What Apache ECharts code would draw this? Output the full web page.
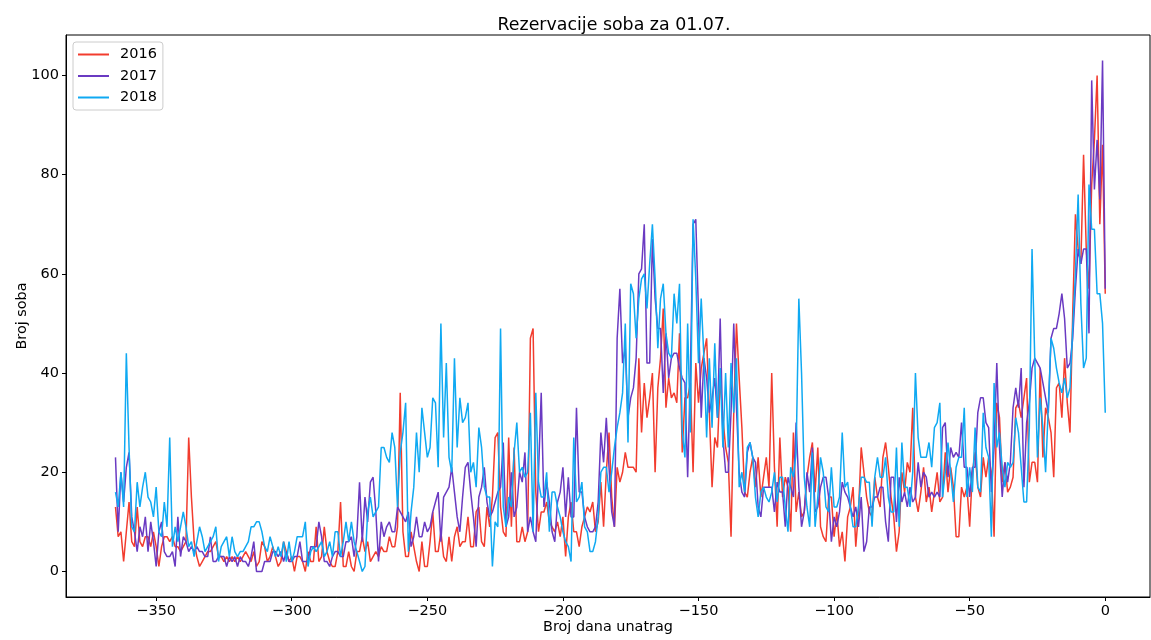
<!DOCTYPE html>
<html>
<head>
<meta charset="utf-8">
<script src="https://cdn.jsdelivr.net/npm/echarts@6/dist/echarts.min.js"></script>
<style>html,body{margin:0;padding:0;background:#fff}#c{width:1151px;height:640px}</style>
</head>
<body>
<div id="c"></div>
<script>
const seriesNames = ['2016', '2017', '2018'];
const xTicks = [-350, -300, -250, -200, -150, -100, -50, 0];
const yTicks = [0, 20, 40, 60, 80, 100];
const days = Array.from({length: 366}, (_, i) => i - 365);

const r2016 = [
13,7,8,2,8,14,6,5,13,6,5,7,7,5,8,5,1,5,7,7,6,7,5,5,4,5,6,27,
15,6,3,1,2,3,4,4,5,6,3,3,2,3,2,3,2,3,2,3,4,3,2,4,1,2,6,5,2,3,5,3,1,2,6,4,2,
3,0,3,3,2,0,4,2,2,9,2,3,9,4,2,1,1,4,14,1,1,4,1,0,4,4,7,4,6,2,3,4,3,5,4,4,7,
5,5,9,36,8,3,3,8,5,2,0,6,1,1,6,12,4,4,8,3,2,7,2,7,9,5,6,6,11,5,5,12,13,6,5,13,9,
15,27,28,13,8,7,27,9,25,6,6,9,6,8,47,49,16,8,12,12,14,10,9,8,10,7,11,3,11,14,8,8,5,9,11,13,12,
14,8,10,18,9,20,28,15,9,21,18,20,24,21,21,21,20,43,28,38,31,35,40,20,37,43,53,33,39,35,36,34,48,24,35,35,38,
20,42,34,41,44,47,32,17,27,25,39,31,25,22,7,32,50,39,29,16,15,20,23,17,23,15,19,23,17,40,21,9,27,15,19,17,8,
28,12,16,11,12,19,23,26,16,25,9,7,6,15,15,7,12,5,8,2,11,13,17,5,12,25,20,15,12,11,19,15,13,23,26,21,15,
11,4,8,20,16,22,20,33,15,12,16,21,14,17,12,16,20,14,15,24,16,21,17,7,7,17,15,17,9,20,24,17,15,23,19,23,20,
7,34,31,18,22,16,17,19,33,34,31,35,39,18,22,22,18,41,23,33,31,28,19,37,38,31,43,34,28,52,72,65,62,84,65,57,78,87,100,70,86,56
];
const p2017 = [
23,8,20,14,21,24,11,8,4,9,7,11,4,10,6,1,8,10,4,3,3,4,1,11,3,7,6,4,
5,4,5,4,4,3,3,7,2,2,3,3,3,1,3,2,3,1,3,2,2,1,3,6,0,0,0,2,2,2,4,4,3,4,2,4,2,
2,3,3,6,2,2,2,5,5,5,10,7,2,2,1,3,4,4,3,3,6,6,7,3,7,18,6,15,10,18,19,12,2,10,7,9,10,
8,8,13,12,11,10,12,5,7,11,7,7,10,8,9,12,14,16,6,15,16,17,21,16,11,8,15,21,22,16,11,5,15,17,21,14,11,
12,14,16,17,26,9,11,20,11,13,20,18,24,8,11,8,6,20,36,13,18,14,8,6,14,16,21,11,19,11,11,33,16,16,11,9,8,
8,9,14,28,22,31,21,12,9,47,57,42,45,31,35,37,43,60,61,70,42,42,67,55,49,49,36,48,39,43,44,44,41,39,38,19,40,
70,71,52,31,43,39,32,35,39,31,51,27,20,20,32,50,33,20,16,15,24,26,23,22,13,11,17,17,17,17,12,18,16,16,9,19,17,
15,30,17,9,12,20,16,25,12,13,17,19,19,15,6,11,9,12,18,16,15,13,11,13,9,15,4,6,13,13,15,15,17,17,10,6,19,
19,10,19,14,16,13,17,14,15,22,17,20,19,15,16,15,16,15,29,30,19,25,23,24,23,30,21,21,15,21,21,32,35,35,30,29,16,
25,42,25,15,22,18,22,33,37,33,41,17,30,34,41,43,42,41,38,35,32,47,49,49,52,56,51,41,42,47,57,65,62,65,65,48,99,77,87,75,103,57
];
const b2018 = [
16,13,20,13,44,25,9,8,18,13,17,20,15,14,11,17,8,7,14,9,27,5,9,6,9,12,9,5,
6,3,6,9,7,4,5,6,7,9,2,5,6,7,3,7,4,3,4,4,5,6,9,9,10,10,8,5,4,7,5,3,5,3,6,2,6,
2,4,7,7,7,10,1,4,5,4,5,6,3,4,6,3,8,8,3,6,10,6,10,6,4,2,0,1,12,15,11,12,13,25,25,23,22,
28,25,13,24,28,34,4,12,17,28,20,33,28,23,25,35,34,21,50,27,42,23,20,43,25,35,30,31,34,20,22,17,29,25,17,15,15,
1,10,9,49,13,9,15,13,24,30,20,21,19,20,32,8,36,18,15,15,20,8,16,16,13,11,8,6,5,2,27,14,15,18,9,8,4,
4,6,11,20,21,21,16,20,25,29,32,36,50,26,58,56,47,55,59,60,53,62,70,59,45,55,58,48,44,43,56,50,58,28,23,50,28,
71,59,42,55,43,27,43,29,46,31,41,25,40,25,42,32,43,17,20,16,25,26,23,15,11,16,17,15,14,16,20,14,19,19,13,8,21,
19,24,55,40,19,13,9,24,9,15,23,20,13,12,21,13,13,15,28,17,18,13,9,9,13,19,19,18,18,9,19,23,19,19,23,15,12,
12,25,9,26,17,17,13,20,40,27,23,23,23,26,21,29,30,34,15,20,26,20,14,21,23,23,33,15,21,16,29,17,16,32,25,23,7,
38,25,28,21,17,22,21,22,31,28,21,14,14,29,65,43,23,35,29,20,33,47,45,41,38,36,39,35,37,49,60,76,54,41,43,78,69,69,56,56,50,32
];

const colors = ['#f23c2e', '#6a3ac2', '#0fa9f2'];
const values = [r2016, p2017, b2018];
const FONT = 'DejaVu Sans';
const fmt = v => (v < 0 ? '\u2212' + Math.abs(v) : String(v));

const chart = echarts.init(document.getElementById('c'), null, {renderer: 'canvas'});
chart.setOption({
  animation: false,
  backgroundColor: '#fff',
  title: {
    text: 'Rezervacije soba za 01.07.',
    left: 609, top: 12, textAlign: 'center',
    textStyle: {fontFamily: FONT, fontSize: 17.4, fontWeight: 'normal', color: '#000'}
  },
  grid: {left: 66, top: 35, width: 1084, height: 562, outerBoundsMode: 'none', containLabel: false,
         show: true, borderColor: '#000', borderWidth: 1, backgroundColor: 'transparent'},
  legend: {
    left: 73, top: 42, orient: 'vertical',
    data: seriesNames,
    itemWidth: 31, itemHeight: 2, itemGap: 4.5,
    icon: 'rect',
    padding: [4, 6, 4, 5],
    borderColor: '#cccccc', borderWidth: 1, borderRadius: 3,
    backgroundColor: 'rgba(255,255,255,0.8)',
    textStyle: {fontFamily: FONT, fontSize: 14.5, color: '#000', lineHeight: 17, padding: [0, 0, 0, 6]}
  },
  xAxis: {
    type: 'value', min: -383.25, max: 16.5,
    name: 'Broj dana unatrag', nameLocation: 'middle', nameGap: 23, nameMoveOverlap: false,
    nameTextStyle: {fontFamily: FONT, fontSize: 14.4, color: '#000'},
    axisLine: {show: true, onZero: false, lineStyle: {color: '#000', width: 1}},
    axisTick: {show: true, length: 4, customValues: xTicks, lineStyle: {color: '#000'}},
    axisLabel: {customValues: xTicks, formatter: fmt, margin: 7, fontFamily: FONT, fontSize: 14.5, color: '#000'},
    splitLine: {show: false}
  },
  yAxis: {
    type: 'value', min: -5.15, max: 108.15,
    name: 'Broj soba', nameLocation: 'middle', nameGap: 37, nameMoveOverlap: false,
    nameTextStyle: {fontFamily: FONT, fontSize: 14.4, color: '#000'},
    axisLine: {show: true, onZero: false, lineStyle: {color: '#000', width: 1}},
    axisTick: {show: true, length: 4, customValues: yTicks, lineStyle: {color: '#000'}},
    axisLabel: {customValues: yTicks, formatter: fmt, margin: 7, fontFamily: FONT, fontSize: 14.5, color: '#000'},
    splitLine: {show: false}
  },
  series: seriesNames.map((name, k) => ({
    name: name, type: 'line',
    data: days.map((d, i) => [d, values[k][i]]),
    showSymbol: false, symbol: 'none',
    lineStyle: {color: colors[k], width: 1.5},
    itemStyle: {color: colors[k]},
    z: 2 + k
  }))
});
</script>
</body>
</html>
